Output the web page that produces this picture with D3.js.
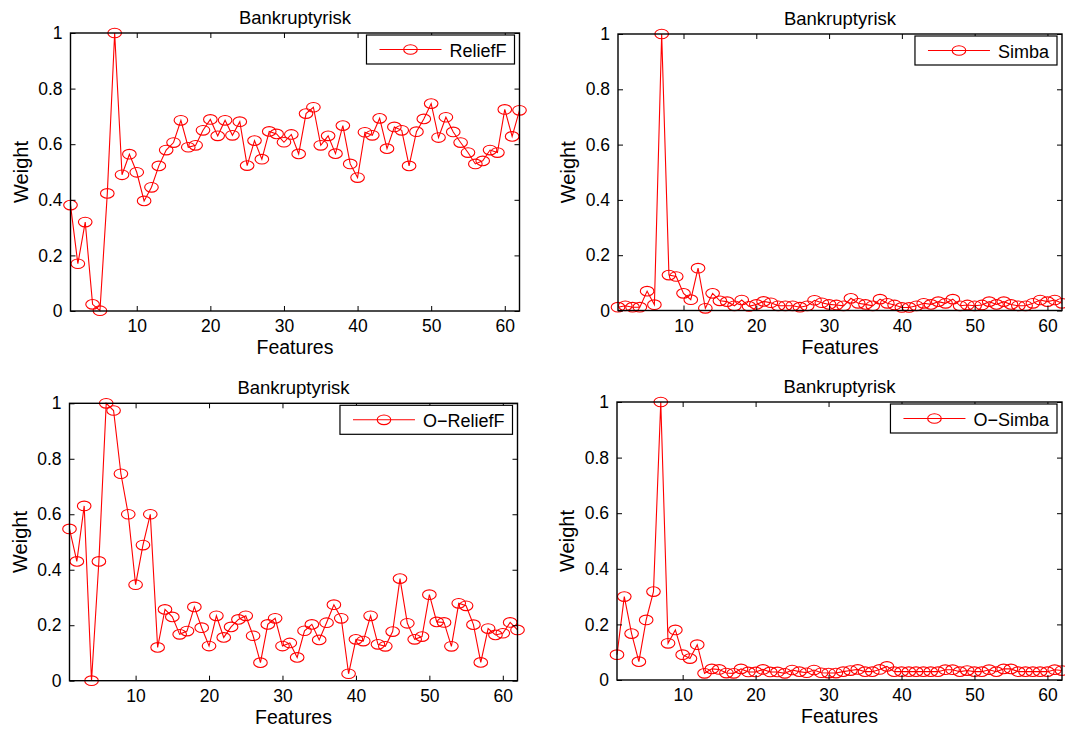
<!DOCTYPE html>
<html>
<head>
<meta charset="utf-8">
<script src="https://cdn.jsdelivr.net/npm/d3@7"></script>
<style>
  html, body { margin: 0; padding: 0; background: #fff; }
  svg { display: block; }
  text { font-family: "Liberation Sans", Arial, Helvetica, sans-serif; fill: #000; }
</style>
</head>
<body>
<svg id="chart" width="1065" height="731"></svg>
<script>
// Feature weights (features 1..62) for the four ranking methods
const chartTitle = "Bankruptyrisk";
const xLabel = "Features";
const yLabel = "Weight";
const xTicks = [10, 20, 30, 40, 50, 60];
const yTicks = [0, 0.2, 0.4, 0.6, 0.8, 1];
const yTickLabels = ["0", "0.2", "0.4", "0.6", "0.8", "1"];

const reliefF = [0.381,0.170,0.320,0.024,0.001,0.423,1.0,0.490,0.564,0.499,
  0.396,0.445,0.522,0.579,0.606,0.686,0.589,0.596,0.650,0.689,
  0.630,0.686,0.632,0.681,0.523,0.613,0.546,0.646,0.637,0.607,
  0.635,0.565,0.710,0.733,0.596,0.630,0.566,0.667,0.529,0.480,
  0.643,0.632,0.693,0.584,0.662,0.650,0.522,0.645,0.691,0.746,
  0.624,0.697,0.644,0.606,0.570,0.529,0.540,0.579,0.570,0.725,0.628,0.722];

const simba = [0.012,0.017,0.012,0.012,0.070,0.021,1.0,0.128,0.123,0.062,
  0.039,0.153,0.008,0.062,0.035,0.032,0.017,0.038,0.015,0.022,
  0.033,0.028,0.017,0.017,0.017,0.012,0.017,0.037,0.028,0.022,
  0.020,0.017,0.044,0.026,0.022,0.017,0.041,0.026,0.020,0.011,
  0.011,0.017,0.026,0.022,0.032,0.026,0.041,0.017,0.020,0.017,
  0.020,0.032,0.022,0.032,0.022,0.017,0.017,0.026,0.038,0.032,0.038,0.026];

const oReliefF = [0.547,0.430,0.630,0.0,0.430,1.0,0.974,0.746,0.600,0.346,
  0.489,0.600,0.120,0.257,0.230,0.167,0.179,0.266,0.191,0.125,
  0.234,0.156,0.194,0.221,0.234,0.162,0.065,0.203,0.225,0.125,
  0.136,0.084,0.180,0.203,0.147,0.209,0.274,0.225,0.025,0.149,
  0.143,0.234,0.131,0.124,0.177,0.368,0.207,0.149,0.159,0.310,
  0.212,0.210,0.124,0.279,0.270,0.202,0.066,0.188,0.165,0.171,0.210,0.183];

const oSimba = [0.091,0.300,0.167,0.066,0.216,0.318,1.0,0.132,0.180,0.091,
  0.077,0.127,0.024,0.040,0.038,0.025,0.024,0.040,0.029,0.029,
  0.038,0.029,0.029,0.024,0.036,0.030,0.026,0.036,0.026,0.025,
  0.025,0.030,0.034,0.038,0.030,0.030,0.038,0.049,0.030,0.030,
  0.030,0.030,0.030,0.030,0.030,0.037,0.037,0.030,0.034,0.030,
  0.030,0.037,0.030,0.040,0.040,0.030,0.030,0.030,0.030,0.030,0.037,0.034];

// Panel geometry: plot box in page pixels
const panels = [
  { name: "ReliefF",   values: reliefF,  x0: 70.5, x1: 519.5, yTop: 33,    yBot: 311 },
  { name: "Simba",     values: simba,    x0: 618,  x1: 1062,  yTop: 34,    yBot: 310.5 },
  { name: "O\u2212ReliefF", values: oReliefF, x0: 69.5, x1: 517.5, yTop: 403.3, yBot: 680.7 },
  { name: "O\u2212Simba",   values: oSimba,   x0: 617,  x1: 1062,  yTop: 402,   yBot: 680 }
];

const RED = "#ff0000";
const svg = d3.select("#chart");
const tickLen = 5;
const mrx = 6.8, mry = 4.8;

panels.forEach(p => {
  const x = d3.scaleLinear().domain([1, 62]).range([p.x0, p.x1]);
  const y = d3.scaleLinear().domain([0, 1]).range([p.yBot, p.yTop]);
  const g = svg.append("g");
  const w = p.x1 - p.x0, h = p.yBot - p.yTop;

  // data line
  const line = d3.line().x((d, i) => x(i + 1)).y(d => y(d));
  g.append("path").datum(p.values)
    .attr("d", line).attr("fill", "none")
    .attr("stroke", RED).attr("stroke-width", 1.1);

  // circle markers
  g.selectAll("ellipse.m").data(p.values).enter().append("ellipse")
    .attr("class", "m")
    .attr("cx", (d, i) => x(i + 1)).attr("cy", d => y(d))
    .attr("rx", mrx).attr("ry", mry)
    .attr("fill", "none").attr("stroke", RED).attr("stroke-width", 1.1);

  // axes (inward ticks on all four sides)
  const axB = g.append("g").attr("transform", `translate(0,${p.yBot})`)
    .call(d3.axisBottom(x).tickValues(xTicks).tickSizeInner(-tickLen).tickSizeOuter(0).tickPadding(9));
  const axT = g.append("g").attr("transform", `translate(0,${p.yTop})`)
    .call(d3.axisTop(x).tickValues(xTicks).tickSizeInner(-tickLen).tickSizeOuter(0).tickFormat(""));
  const axL = g.append("g").attr("transform", `translate(${p.x0},0)`)
    .call(d3.axisLeft(y).tickValues(yTicks).tickSizeInner(-tickLen).tickSizeOuter(0).tickPadding(8)
      .tickFormat((d, i) => yTickLabels[i]));
  const axR = g.append("g").attr("transform", `translate(${p.x1},0)`)
    .call(d3.axisRight(y).tickValues(yTicks).tickSizeInner(-tickLen).tickSizeOuter(0).tickFormat(""));
  [axB, axT, axL, axR].forEach(a => {
    a.select(".domain").remove();
    a.selectAll("line").attr("stroke", "#000").attr("stroke-width", 1);
    a.selectAll("text").attr("font-size", 17.5).attr("font-family", null).attr("fill", "#000");
  });

  // frame
  g.append("rect").attr("x", p.x0).attr("y", p.yTop).attr("width", w).attr("height", h)
    .attr("fill", "none").attr("stroke", "#000").attr("stroke-width", 1.4);

  // title and axis labels
  const cx = (p.x0 + p.x1) / 2;
  g.append("text").attr("x", cx).attr("y", p.yTop - 9).attr("text-anchor", "middle")
    .attr("font-size", 18.5).text(chartTitle);
  g.append("text").attr("x", cx).attr("y", p.yBot + 43).attr("text-anchor", "middle")
    .attr("font-size", 19.5).text(xLabel);
  g.append("text").attr("transform", `translate(${p.x0 - 43},${(p.yTop + p.yBot) / 2}) rotate(-90)`)
    .attr("text-anchor", "middle").attr("font-size", 20).text(yLabel);

  // legend box anchored to the top-right corner of the plot
  const lg = g.append("g");
  const box = lg.append("rect");
  const label = lg.append("text").attr("font-size", 18).attr("dominant-baseline", "central").text(p.name);
  const tw = label.node().getComputedTextLength();
  const bh = 29, lineLen = 62, padL = 13, gap = 8, padR = 8;
  const bw = padL + lineLen + gap + tw + padR;
  const bx = p.x1 - 5 - bw, by = p.yTop + 2;
  box.attr("x", bx).attr("y", by).attr("width", bw).attr("height", bh)
    .attr("fill", "#fff").attr("stroke", "#000").attr("stroke-width", 1.2);
  const ly = by + bh / 2;
  lg.append("line").attr("x1", bx + padL).attr("x2", bx + padL + lineLen)
    .attr("y1", ly).attr("y2", ly).attr("stroke", RED).attr("stroke-width", 1.1);
  lg.append("ellipse").attr("cx", bx + padL + lineLen / 2).attr("cy", ly)
    .attr("rx", mrx).attr("ry", mry).attr("fill", "none").attr("stroke", RED).attr("stroke-width", 1.1);
  label.attr("x", bx + padL + lineLen + gap).attr("y", ly + 1);
});
</script>
</body>
</html>
